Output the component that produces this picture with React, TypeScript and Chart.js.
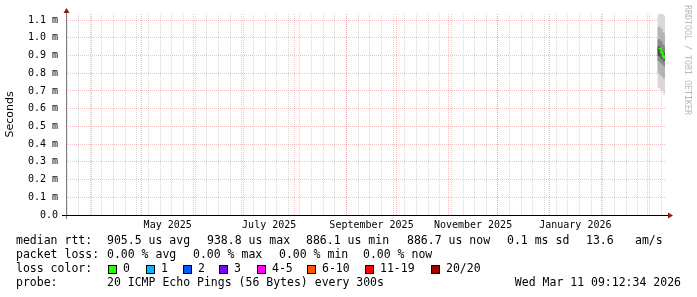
import React, { useEffect, useRef } from "react";
import { Chart, registerables } from "chart.js";

Chart.register(...registerables);

// ---- time frame (last 360 days) ----
const START_MS = Date.UTC(2025, 2, 16, 9, 12, 34);
const SPAN_DAYS = 360;
const DAY_MS = 86400000;

// ---- y axis (milliseconds) ----
const Y_MAX = 1.134;
const yTickValues = [0, 0.1, 0.2, 0.3, 0.4, 0.5, 0.6, 0.7, 0.8, 0.9, 1.0, 1.1];

// ---- x axis: month starts (major grid) and labelled months ----
const monthStarts: [number, number][] = [
  [2025, 3], [2025, 4], [2025, 5], [2025, 6], [2025, 7], [2025, 8],
  [2025, 9], [2025, 10], [2025, 11], [2026, 0], [2026, 1], [2026, 2],
];
const labelMonths: [number, number, string][] = [
  [2025, 4, "May 2025"],
  [2025, 6, "July 2025"],
  [2025, 8, "September 2025"],
  [2025, 10, "November 2025"],
  [2026, 0, "January 2026"],
];

// ---- smoke data (days since start, ms) ----
const smokeDays = [356.4, 357.6, 358.8, 359.8];
const smokeL1Lo = [0.72, 0.71, 0.70, 0.68];
const smokeL1Hi = [1.13, 1.14, 1.13, 1.12];
const smokeL2Lo = [0.80, 0.79, 0.78, 0.77];
const smokeL2Hi = [1.06, 1.05, 1.03, 1.02];
const smokeL3Lo = [0.87, 0.86, 0.85, 0.84];
const smokeL3Hi = [0.99, 0.98, 0.96, 0.95];
const smokeL4Lo = [0.90, 0.89, 0.88, 0.87];
const smokeL4Hi = [0.95, 0.94, 0.92, 0.91];

// ---- median rtt line ----
const medianDays = [356.2, 357.0, 357.8, 358.6, 359.4, 360.0];
const medianMs = [0.94, 0.94, 0.915, 0.895, 0.885, 0.885];

// ---- legend texts ----
const legendRtt: [number, string][] = [
  [16, "median rtt:"], [107, "905.5 us avg"], [207, "938.8 us max"],
  [306, "886.1 us min"], [407, "886.7 us now"], [507, "0.1 ms sd"],
  [586, "13.6"], [635, "am/s"],
];
const legendLoss: [number, string][] = [
  [16, "packet loss:"], [107, "0.00 % avg"], [193, "0.00 % max"],
  [279, "0.00 % min"], [363, "0.00 % now"],
];
const lossColors: [number, string, string][] = [
  [108, "#26ff00", "0"], [146, "#00b8ff", "1"], [183, "#0059ff", "2"],
  [219, "#7e00ff", "3"], [257, "#ff00ff", "4-5"], [307, "#ff5500", "6-10"],
  [365, "#ff0000", "11-19"], [431, "#a10000", "20/20"],
];
const probeText = "20 ICMP Echo Pings (56 Bytes) every 300s";
const dateText = "Wed Mar 11 09:12:34 2026";

const MONO = "'DejaVu Sans Mono', monospace";

function dayOf(ms: number) {
  return (ms - START_MS) / DAY_MS;
}

function buildXTicks() {
  const ticks: any[] = [];
  // weekly minor lines on Mondays
  let d = Date.UTC(2025, 2, 17);
  while (dayOf(d) <= SPAN_DAYS) {
    const v = dayOf(d);
    if (v >= 0) ticks.push({ value: v, kind: "minor", lbl: "" });
    d += 7 * DAY_MS;
  }
  monthStarts.forEach(([y, m]) => {
    ticks.push({ value: dayOf(Date.UTC(y, m, 1)), kind: "major", lbl: "" });
  });
  labelMonths.forEach(([y, m, t]) => {
    const a = dayOf(Date.UTC(y, m, 1));
    const b = dayOf(Date.UTC(y, m + 1, 1));
    ticks.push({ value: (a + b) / 2, kind: "label", lbl: t });
  });
  ticks.sort((p, q) => p.value - q.value);
  return ticks;
}

const bgPlugin = {
  id: "rrdDecor",
  afterDatasetsDraw(chart: any) {
    const ctx = chart.ctx as CanvasRenderingContext2D;
    const a = chart.chartArea;
    ctx.save();
    // y axis line
    ctx.strokeStyle = "#7a7a7a";
    ctx.lineWidth = 1;
    ctx.beginPath();
    ctx.moveTo(a.left + 0.5, a.top - 2);
    ctx.lineTo(a.left + 0.5, a.bottom + 4);
    ctx.stroke();
    // x axis line
    ctx.strokeStyle = "#000";
    ctx.beginPath();
    ctx.moveTo(a.left - 4, a.bottom + 0.5);
    ctx.lineTo(a.right + 4, a.bottom + 0.5);
    ctx.stroke();
    // arrows
    ctx.fillStyle = "#8b1a1a";
    ctx.beginPath();
    ctx.moveTo(a.left + 0.5, a.top - 6);
    ctx.lineTo(a.left - 2.5, a.top - 1);
    ctx.lineTo(a.left + 3.5, a.top - 1);
    ctx.closePath();
    ctx.fill();
    ctx.beginPath();
    ctx.moveTo(a.right + 8, a.bottom + 0.5);
    ctx.lineTo(a.right + 3, a.bottom - 2.5);
    ctx.lineTo(a.right + 3, a.bottom + 3.5);
    ctx.closePath();
    ctx.fill();
    ctx.restore();
  },
  afterDraw(chart: any) {
    const ctx = chart.ctx as CanvasRenderingContext2D;
    ctx.save();
    // watermark
    ctx.save();
    ctx.translate(687, 5);
    ctx.rotate(Math.PI / 2);
    ctx.font = `8.3px ${MONO}`;
    ctx.fillStyle = "#b8b8b8";
    ctx.textBaseline = "middle";
    ctx.textAlign = "left";
    ctx.fillText("RRDTOOL / TOBI OETIKER", 0, 0);
    ctx.restore();

    ctx.font = `11.5px ${MONO}`;
    ctx.fillStyle = "#000";
    ctx.textBaseline = "middle";
    ctx.textAlign = "left";
    legendRtt.forEach(([x, t]) => ctx.fillText(t, x, 241));
    legendLoss.forEach(([x, t]) => ctx.fillText(t, x, 255));
    ctx.fillText("loss color:", 16, 269);
    lossColors.forEach(([x, c, t]) => {
      ctx.fillStyle = c;
      ctx.fillRect(x, 265, 8, 8);
      ctx.strokeStyle = "#000";
      ctx.lineWidth = 1;
      ctx.strokeRect(x + 0.5, 265.5, 8, 8);
      ctx.fillStyle = "#000";
      ctx.fillText(t, x + 15, 269);
    });
    ctx.fillText("probe:", 16, 283);
    ctx.fillText(probeText, 107, 283);
    ctx.textAlign = "right";
    ctx.fillText(dateText, 681, 283);
    ctx.restore();
  },
};

function band(lo: number[], hi: number[]) {
  return smokeDays.map((d, i) => ({ x: d, y: [lo[i], hi[i]] }));
}

export default function App() {
  const ref = useRef<HTMLCanvasElement | null>(null);

  useEffect(() => {
    if (!ref.current) return;
    const xTicks = buildXTicks();
    const gridRed = "rgba(220,90,90,0.38)";
    const gridGray = "rgba(140,140,140,0.35)";
    const barCommon = { type: "bar", grouped: false, barThickness: 2.2, borderWidth: 0 };
    const chart = new Chart(ref.current, {
      type: "bar",
      data: {
        datasets: [
          {
            ...barCommon,
            label: "L4",
            data: band(smokeL4Lo, smokeL4Hi),
            backgroundColor: "#505050",
            order: 2,
          },
          {
            ...barCommon,
            label: "L3",
            data: band(smokeL3Lo, smokeL3Hi),
            backgroundColor: "#8a8a8a",
            order: 3,
          },
          {
            ...barCommon,
            label: "L2",
            data: band(smokeL2Lo, smokeL2Hi),
            backgroundColor: "#b4b4b4",
            order: 4,
          },
          {
            ...barCommon,
            label: "L1",
            data: band(smokeL1Lo, smokeL1Hi),
            backgroundColor: "#d8d8d8",
            order: 5,
          },
          {
            type: "line",
            label: "median",
            data: medianDays.map((d, i) => ({ x: d, y: medianMs[i] })),
            borderColor: "#26ff00",
            borderWidth: 2,
            pointRadius: 0,
            stepped: "before",
            order: 1,
          } as any,
        ] as any,
      },
      options: {
        animation: false,
        responsive: false,
        maintainAspectRatio: false,
        layout: { padding: { left: 0, top: 14, right: 32, bottom: 0 } },
        plugins: { legend: { display: false }, tooltip: { enabled: false } },
        scales: {
          x: {
            type: "linear",
            offset: false,
            min: 0,
            max: SPAN_DAYS,
            afterFit: (s: any) => {
              s.height = 82;
            },
            afterBuildTicks: (s: any) => {
              s.ticks = xTicks.map((t) => ({ ...t }));
            },
            grid: {
              offset: false,
              drawTicks: false,
              color: (c: any) => {
                const k = c.tick && c.tick.kind;
                if (k === "major") return gridRed;
                if (k === "minor") return gridGray;
                return "rgba(0,0,0,0)";
              },
              lineWidth: 1,
            },
            border: { display: false, dash: [1, 1] },
            ticks: {
              autoSkip: false,
              maxRotation: 0,
              minRotation: 0,
              padding: 4,
              color: "#000",
              font: { family: MONO, size: 10 },
              callback: (_v: any, i: number) => (xTicks[i] ? xTicks[i].lbl : ""),
            },
          },
          y: {
            type: "linear",
            min: 0,
            max: Y_MAX,
            afterFit: (s: any) => {
              s.width = 66;
            },
            afterBuildTicks: (s: any) => {
              s.ticks = yTickValues.map((v) => ({ value: v }));
            },
            grid: {
              drawTicks: false,
              color: (c: any) => (c.tick && c.tick.value === 0 ? "rgba(0,0,0,0)" : gridRed),
              lineWidth: 1,
            },
            border: { display: false, dash: [1, 1] },
            title: {
              display: true,
              text: "Seconds",
              color: "#000",
              font: { family: "'DejaVu Sans', sans-serif", size: 11 },
              padding: { top: 4, bottom: 0 },
            },
            ticks: {
              padding: 8,
              color: "#000",
              font: { family: MONO, size: 10 },
              callback: (v: any) => (v === 0 ? "0.0" : Number(v).toFixed(1) + " m"),
            },
          },
        },
      } as any,
      plugins: [bgPlugin as any],
    });
    return () => chart.destroy();
  }, []);

  return (
    <div style={{ position: "fixed", left: 0, top: 0, width: 697, height: 297, background: "#fff" }}>
      <canvas ref={ref} width={697} height={297} style={{ width: 697, height: 297 }} />
    </div>
  );
}
